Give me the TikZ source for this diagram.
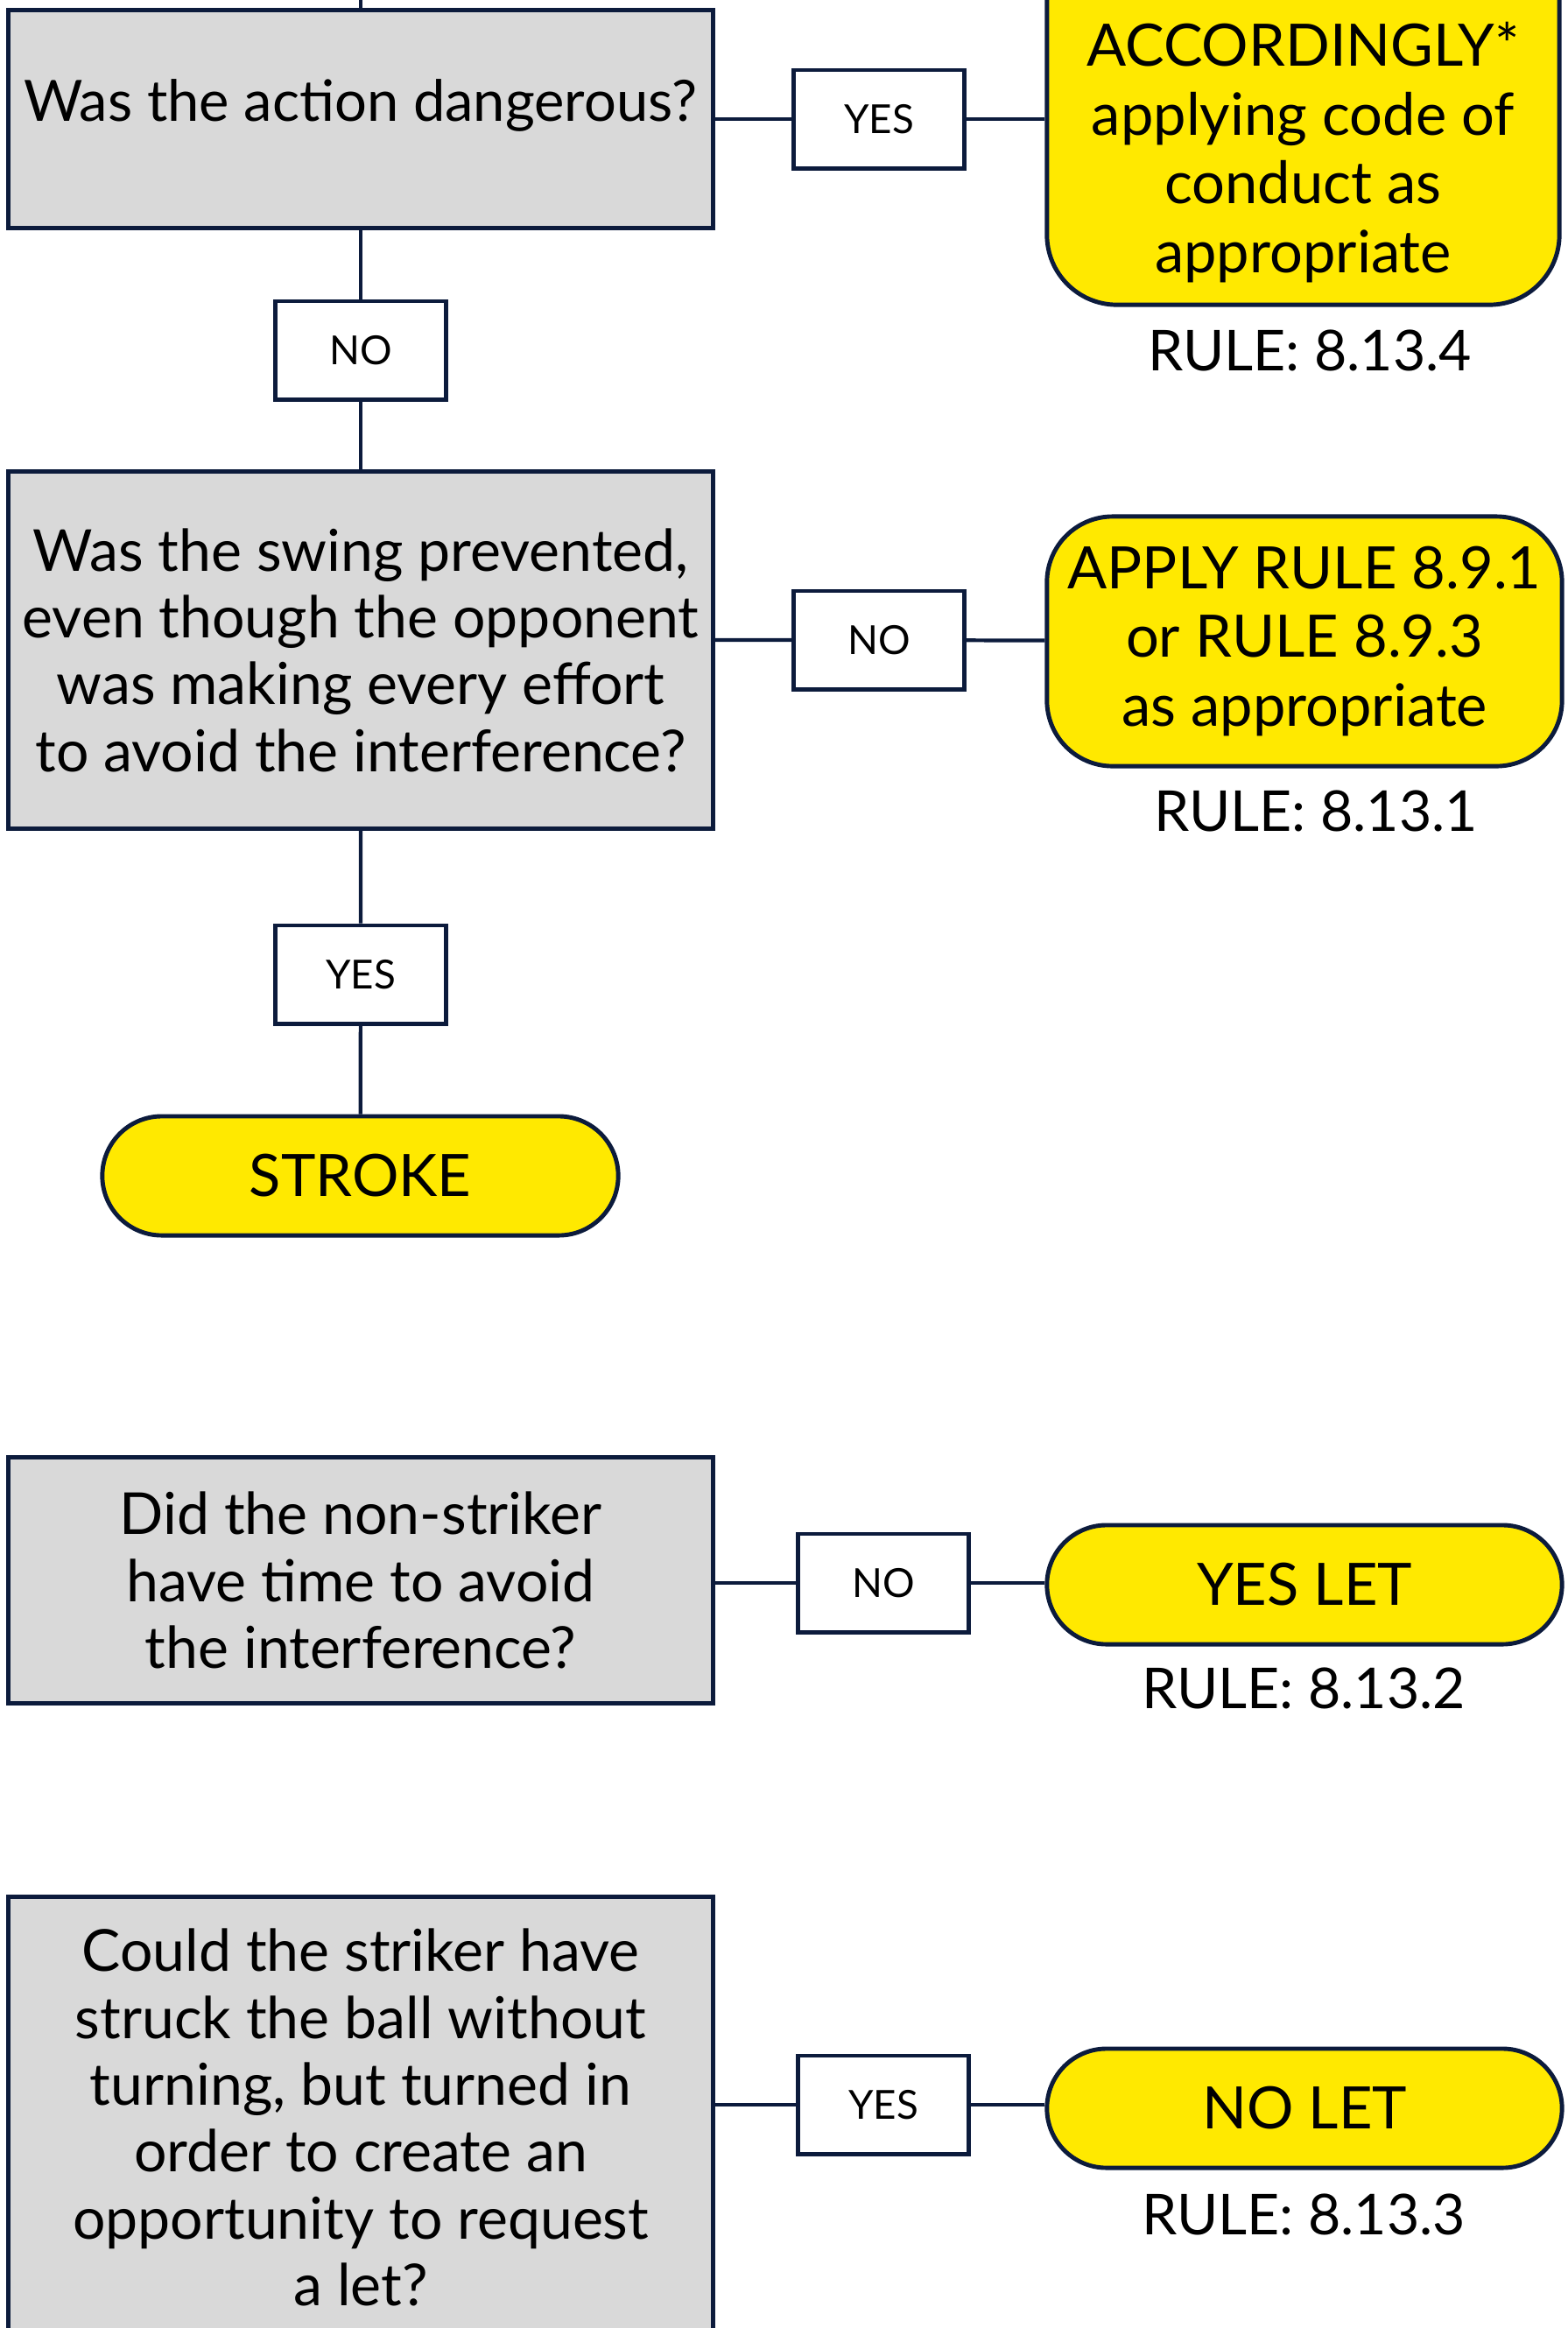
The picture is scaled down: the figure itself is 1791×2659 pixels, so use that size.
\documentclass[tikz,border=0pt]{standalone}
\usepackage{fontspec}
\setmainfont{Lato}
\usepackage{xcolor}
\definecolor{navy}{RGB}{12,27,60}
\definecolor{boxgrey}{RGB}{217,217,217}
\definecolor{ruleyellow}{RGB}{255,233,0}
\tikzset{
  question/.style={draw=navy, line width=1.4pt, fill=boxgrey, align=center,
    minimum width=8.04cm, inner sep=0pt, font=\fontsize{18.8}{21.7}\selectfont},
  answer/.style={draw=navy, line width=1.4pt, fill=white, minimum width=1.94cm,
    minimum height=1.12cm, inner sep=0pt, font=\fontsize{13}{15}\selectfont},
  outcome/.style={draw=navy, line width=1.4pt, fill=ruleyellow, align=center,
    minimum width=5.88cm, inner sep=0pt, font=\fontsize{19}{22.4}\selectfont},
  ruleref/.style={font=\fontsize{18.3}{21.6}\selectfont, inner sep=0pt},
  link/.style={draw=navy, line width=1.2pt}
}
\begin{document}
\begin{tikzpicture}[x=0.01cm, y=-0.01cm]
  \clip (0,0) rectangle (1791,2659);
  \fill[white] (0,0) rectangle (1791,2659);

  % first question
  \coordinate (top) at (412,0);
  \node[question, minimum height=2.49cm, text depth=0.43cm, font=\fontsize{18.5}{21.7}\selectfont] (q1) at (412,136) {Was the action dangerous?};
  \node[answer] (yes1) at (1004,136) {YES};
  \node[outcome, minimum width=5.85cm, minimum height=4.24cm, rounded corners=0.8cm] (acc) at (1488.5,136) {};
  \node[align=center, inner sep=0pt, font=\fontsize{19}{22.4}\selectfont] (acctext) at (1488.5,174)
    {ACCORDINGLY*\\applying code of\\conduct as\\appropriate};
  \node[ruleref] (rule4) at (1496,400) {RULE: 8.13.4};
  \node[answer] (no1) at (412,400) {NO};

  % second question
  \node[question, minimum height=4.07cm] (q2) at (412,742.5)
    {Was the swing prevented,\\even though the opponent\\was making every effort\\to avoid the interference?};
  \node[answer] (no2) at (1004,731) {NO};
  \node[outcome, minimum height=2.85cm, rounded corners=0.75cm] (apply) at (1490,732.5)
    {APPLY RULE 8.9.1\\or RULE 8.9.3\\as appropriate};
  \node[ruleref] (rule1) at (1503,926) {RULE: 8.13.1};
  \node[answer] (yes2) at (412,1113) {YES};
  \node[outcome, minimum width=5.89cm, minimum height=1.36cm, rounded corners=0.68cm] (stroke) at (411.5,1343) {STROKE};

  % third question
  \node[question, minimum height=2.80cm] (q3) at (412,1805)
    {Did the non-striker\\have time to avoid\\the interference?};
  \node[answer] (no3) at (1009,1808) {NO};
  \node[outcome, minimum height=1.36cm, rounded corners=0.68cm] (yeslet) at (1490,1810) {YES LET};
  \node[ruleref] (rule2) at (1489,1928) {RULE: 8.13.2};

  % fourth question
  \node[question, minimum height=5.03cm] (q4) at (412,2418.5)
    {Could the striker have\\struck the ball without\\turning, but turned in\\order to create an\\opportunity to request\\a let?};
  \node[answer] (yes4) at (1009,2404) {YES};
  \node[outcome, minimum height=1.36cm, rounded corners=0.68cm] (nolet) at (1490,2408) {NO LET};
  \node[ruleref] (rule3) at (1489,2529) {RULE: 8.13.3};

  % connectors
  \draw[link] (top) -- (q1);
  \draw[link] (q1) -- (yes1) -- (acc);
  \draw[link] (q1) -- (no1) -- (q2);
  \draw[link] (no2 -| q2.east) -- (no2) -- (apply);
  \draw[link] (q2) -- (yes2) -- (stroke);
  \draw[link] (no3 -| q3.east) -- (no3) -- (no3 -| yeslet.west);
  \draw[link] (yes4 -| q4.east) -- (yes4) -- (yes4 -| nolet.west);
\end{tikzpicture}
\end{document}
